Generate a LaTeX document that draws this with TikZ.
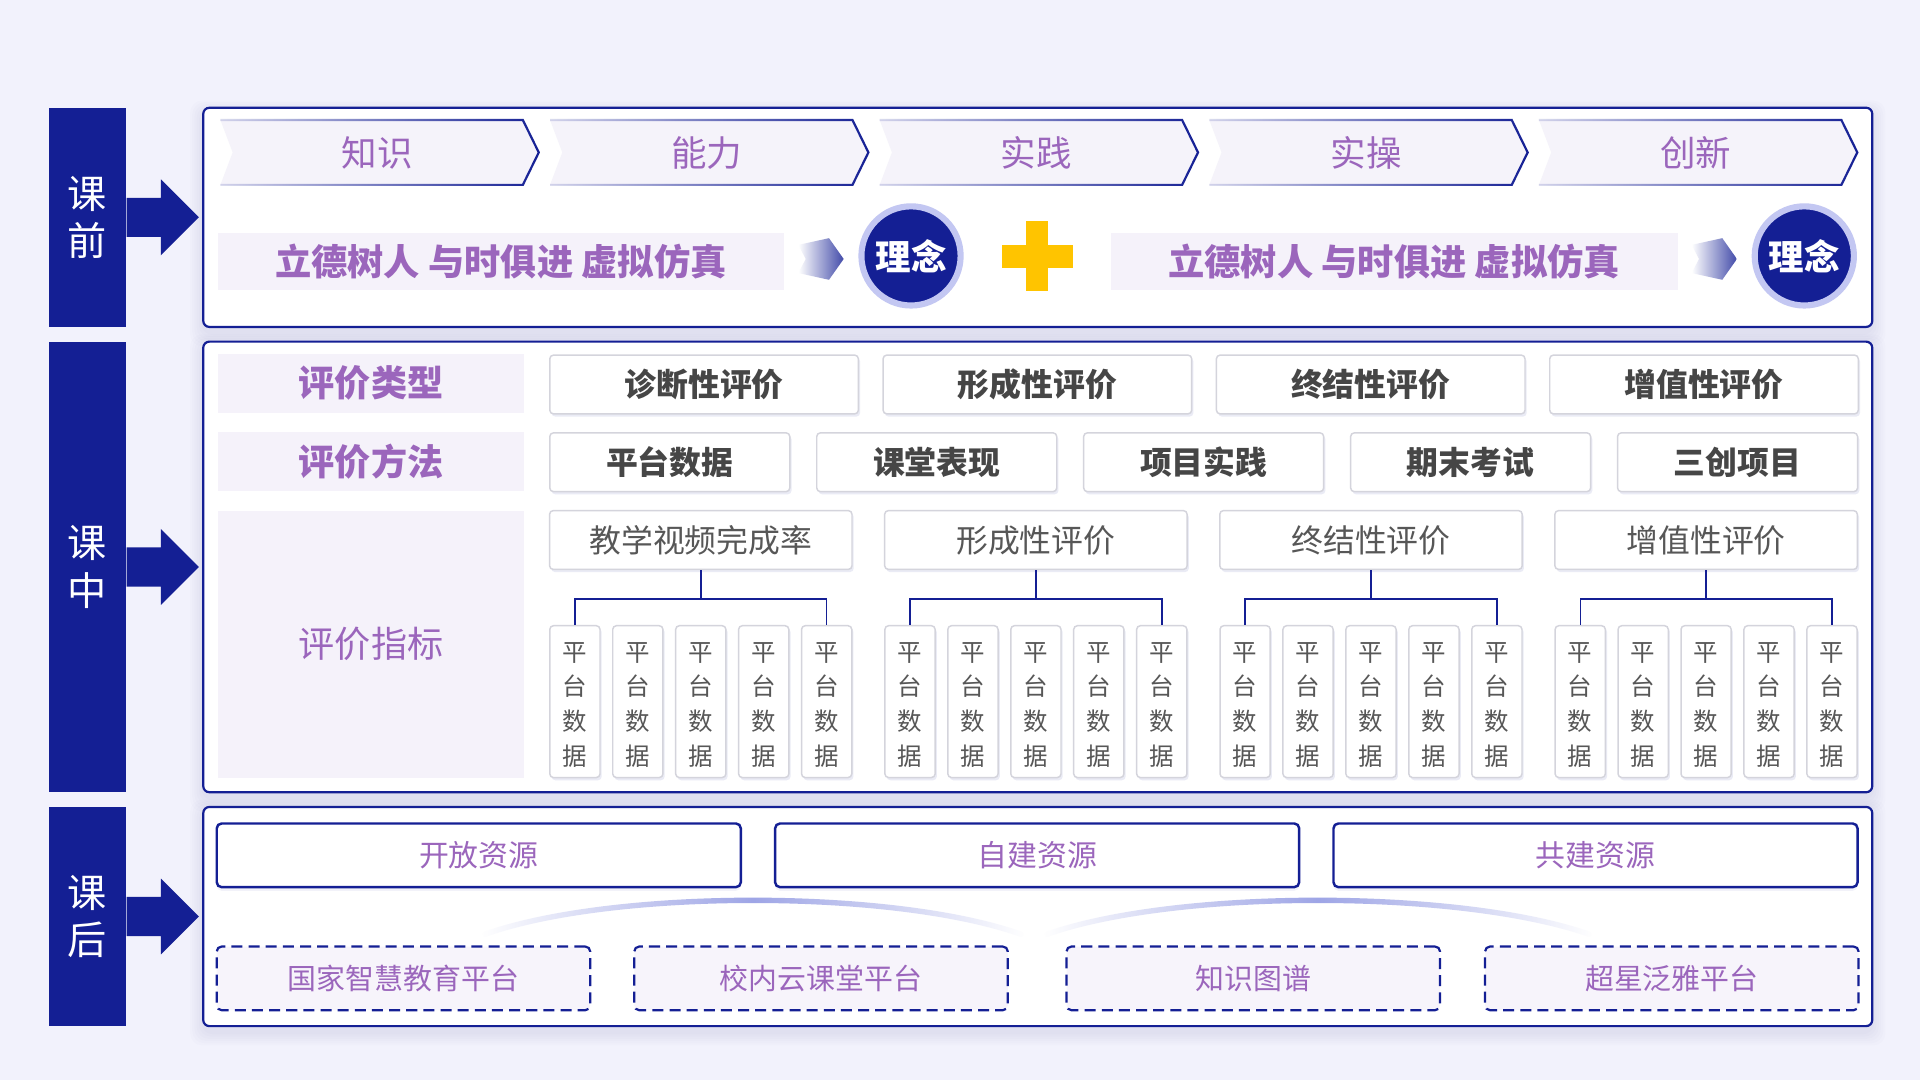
\documentclass[tikz,border=0pt]{standalone}
\usepackage{fontspec}
\setmainfont{Noto Sans CJK SC}
\usetikzlibrary{shadows,fadings,calc}
\definecolor{bg}{HTML}{F2F2FC}
\definecolor{navy}{HTML}{141F94}
\definecolor{purp}{HTML}{9B66BC}
\definecolor{band}{HTML}{F5F2FA}
\definecolor{gtext}{HTML}{464646}
\definecolor{gtext2}{HTML}{575757}
\definecolor{gbord}{HTML}{D4D4DC}
\definecolor{ring}{HTML}{C3C7F2}
\definecolor{plusc}{HTML}{FFC400}
\definecolor{chevfill}{HTML}{F5F3FA}
\definecolor{arcc}{HTML}{9EA5E6}
\definecolor{dashfill}{HTML}{F7F4FB}
\tikzfading[name=chevfade, left color=transparent!85, right color=transparent!0]
\tikzfading[name=arcfade, left color=transparent!100, right color=transparent!100, middle color=transparent!0]
\begin{document}
\begin{tikzpicture}[x=0.5pt,y=-0.5pt,
  sidebar/.style={fill=navy, text=white, inner sep=0, minimum width=31.5pt, align=center, font=\fontsize{16}{19.5}\selectfont},
  panel/.style={draw=navy, fill=white, line width=0.9pt, rounded corners=2.5pt, inner sep=0},
  bandbox/.style={fill=band, inner sep=0},
  chevtext/.style={text=purp, font=\fontsize{14.5}{16}\selectfont},
  mottotext/.style={text=purp, font=\bfseries\fontsize{14.8}{16}\selectfont},
  idea/.style={circle, fill=navy, draw=ring, line width=2.5pt, minimum size=40.5pt, inner sep=0, text=white, font=\bfseries\fontsize{14.5}{16}\selectfont},
  graybox/.style={draw=gbord, fill=white, line width=0.6pt, rounded corners=1.5pt, inner sep=0, drop shadow={shadow xshift=0.7pt, shadow yshift=-1.1pt, fill=navy!40, opacity=0.22}},
  typebox/.style={graybox, minimum width=126pt, minimum height=24pt, text=gtext, font=\bfseries\fontsize{13}{15}\selectfont},
  methbox/.style={graybox, minimum width=98pt, minimum height=24pt, text=gtext, font=\bfseries\fontsize{13}{15}\selectfont},
  indbox/.style={graybox, minimum width=123.5pt, minimum height=24pt, text=gtext2, font=\fontsize{13}{15}\selectfont},
  vbox/.style={graybox, minimum width=20.5pt, minimum height=62pt},
  vtext/.style={text=gtext2, align=center, inner sep=0, font=\fontsize{10}{14.15}\selectfont},
  lbltext/.style={text=purp, font=\bfseries\fontsize{14.75}{16}\selectfont},
  resbox/.style={draw=navy, fill=white, line width=1pt, rounded corners=2pt, minimum width=214pt, minimum height=26pt, inner sep=0, text=purp, font=\fontsize{12.2}{14}\selectfont, drop shadow={shadow xshift=0pt, shadow yshift=-1.5pt, fill=navy!30, opacity=0.18}},
  platbox/.style={draw=navy, fill=dashfill, line width=0.9pt, dash pattern=on 4.5pt off 2.5pt, rounded corners=2pt, minimum width=152.5pt, minimum height=26pt, inner sep=0, text=purp, font=\fontsize{11.8}{14}\selectfont},
  tree/.style={draw=navy, line width=0.6pt},
  pointer/.style={left color=white, right color=navy!80, draw=none}
]
% background
\fill[bg] (0,0) rectangle (1568,882);
\useasboundingbox (0,0) rectangle (1568,882);

% panel glows
\foreach \ya/\yb in {88/267, 279/647, 659/838}{
  \foreach \k in {1,...,6}{
    \fill[navy, opacity=0.012, rounded corners=5pt] (166-1.8*\k,\ya-1.5*\k+3) rectangle (1529+1.8*\k,\yb+1.8*\k+5);
  }
}

% side bars
\node[sidebar, minimum height=89.5pt] (b1) at (71.5,177.5) {课\\前};
\node[sidebar, minimum height=184pt] (b2) at (71.5,463) {课\\中};
\node[sidebar, minimum height=89.5pt] (b3) at (71.5,748.5) {课\\后};
\foreach \b in {b1,b2,b3}{
  \fill[navy] (\b.east) ++(0,-16) -- ++(28,0) -- ++(0,-15) -- ++(31,31) -- ++(-31,31) -- ++(0,-15) -- ++(-28,0) -- cycle;
}

% panels
\node[panel, minimum width=681.5pt, minimum height=89.5pt] (p1) at (847.5,177.5) {};
\node[panel, minimum width=681.5pt, minimum height=184pt] (p2) at (847.5,463) {};
\node[panel, minimum width=681.5pt, minimum height=89.5pt] (p3) at (847.5,748.5) {};

% chevrons
\foreach \t [count=\i from 0] in {知识,能力,实践,实操,创新}{
  \pgfmathsetmacro\L{180+269.2*\i}
  \fill[chevfill] (\L,98) -- (\L+247,98) -- (\L+260,124.5) -- (\L+247,151) -- (\L,151) -- (\L+10,124.5) -- cycle;
  \draw[navy, line width=0.9pt, path fading=chevfade] (\L,98) -- (\L+247,98) -- (\L+260,124.5) -- (\L+247,151) -- (\L,151);
  \node[chevtext] (c\i) at (\L+128,125) {\t};
}

% motto rows
\node[bandbox, minimum width=231pt, minimum height=23.5pt] (m1) at (409,213.5) {};
\node[mottotext] (m1t) at (m1) {立德树人 与时俱进 虚拟仿真};
\node[bandbox, minimum width=231.5pt, minimum height=23.5pt] (m2) at (1138.5,213.5) {};
\node[mottotext] (m2t) at (m2) {立德树人 与时俱进 虚拟仿真};

% pointers
\foreach \px in {652,1381.5}{
  \shade[pointer] (\px,200) -- (\px+25,194.5) -- (\px+37,211.5) -- (\px+25,228.5) -- (\px,223) -- (\px+6,211.5) -- cycle;
}

% idea circles
\node[idea] (id1) at (744,209) {理念};
\node[idea] (id2) at (1473.5,209) {理念};

% plus
\fill[plusc] (818,200) rectangle (876,219);
\fill[plusc] (838,180.5) rectangle (856,238);

% middle panel labels
\node[bandbox, minimum width=125pt, minimum height=24pt] (l1) at (303,313) {};
\node[lbltext] (l1t) at (l1) {评价类型};
\node[bandbox, minimum width=125pt, minimum height=24pt] (l2) at (303,377) {};
\node[lbltext] (l2t) at (l2) {评价方法};
\node[bandbox, minimum width=125pt, minimum height=109pt] (l3) at (303,526) {};
\node[text=purp, font=\fontsize{14.75}{16}\selectfont] (l3t) at (l3) {评价指标};

% type row
\foreach \t [count=\i from 0] in {诊断性评价,形成性评价,终结性评价,增值性评价}{
  \node[typebox] (t\i) at (575+272.2*\i,314) {\t};
}
% method row
\foreach \t [count=\i from 0] in {平台数据,课堂表现,项目实践,期末考试,三创项目}{
  \node[methbox] (me\i) at (547+218*\i,377.5) {\t};
}
% indicator row
\foreach \t [count=\g from 0] in {教学视频完成率,形成性评价,终结性评价,增值性评价}{
  \node[indbox] (i\g) at (572.3+273.67*\g,441) {\t};
}
% small boxes
\foreach \g in {0,...,3}{
  \foreach \j in {0,...,4}{
    \node[vbox] (s\g\j) at (469.5+273.67*\g+51.4*\j,573) {};
    \node[vtext] (v\g\j) at ([yshift=-1.2pt]s\g\j.center) {平\\台\\数\\据};
  }
}
% tree connectors
\foreach \g in {0,...,3}{
  \coordinate (j\g) at (i\g.south |- 0,489);
  \draw[tree] (i\g.south) -- (j\g);
  \draw[tree] (s\g0.north) |- (j\g) -| (s\g4.north);
}

% bottom panel
\foreach \t [count=\i from 0] in {开放资源,自建资源,共建资源}{
  \node[resbox] (r\i) at (391+456*\i,698.5) {\t};
}
\node[platbox] (q0) at (329.5,799) {国家智慧教育平台};
\node[platbox] (q1) at (670.5,799) {校内云课堂平台};
\node[platbox] (q2) at (1023.5,799) {知识图谱};
\node[platbox] (q3) at (1365.3,799) {超星泛雅平台};

% arcs
\draw[arcc, line width=2.2pt, line cap=round, path fading=arcfade] (396,763) .. controls (500,726) and (730,726) .. (834,763);
\draw[arcc, line width=2.2pt, line cap=round, path fading=arcfade] (855,763) .. controls (960,726) and (1192,726) .. (1298,763);
\end{tikzpicture}
\end{document}
